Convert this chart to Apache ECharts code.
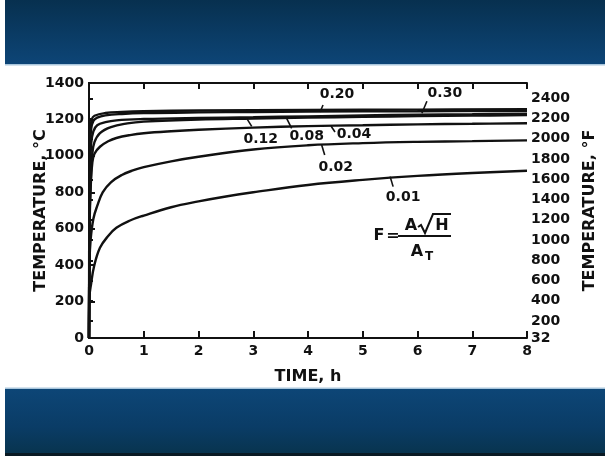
<!DOCTYPE html>
<html>
<head>
<meta charset="utf-8">
<script src="https://cdn.jsdelivr.net/npm/echarts@6/dist/echarts.min.js"></script>
<style>
  html, body { margin: 0; padding: 0; background: #ffffff; }
  #chart { width: 605px; height: 456px; }
</style>
</head>
<body>
<div id="chart"></div>
<script>
// Heating curves: temperature (°C) versus time (h) for several F values.
const curveNames = ['0.01', '0.02', '0.04', '0.08', '0.12', '0.20', '0.30'];

const curve001 = [[0, 0], [0.01, 230], [0.04, 300], [0.09, 390], [0.2, 495], [0.35, 560], [0.5, 605], [0.75, 645], [1, 672], [1.5, 718], [2, 750], [2.5, 777], [3, 800], [4, 840], [5, 868], [6, 890], [7, 906], [8, 918]];
const curve002 = [[0, 0], [0.01, 420], [0.03, 540], [0.08, 655], [0.15, 725], [0.25, 800], [0.4, 855], [0.6, 895], [0.8, 920], [1, 938], [1.5, 970], [2, 995], [3, 1035], [4, 1058], [5, 1070], [6, 1077], [7, 1081], [8, 1085]];
const curve004 = [[0, 0], [0.01, 600], [0.03, 820], [0.06, 960], [0.1, 1012], [0.2, 1050], [0.35, 1080], [0.5, 1098], [0.75, 1114], [1, 1124], [1.5, 1135], [2, 1143], [3, 1155], [4, 1163], [5, 1168], [6, 1173], [7, 1176], [8, 1179]];
const curve008 = [[0, 0], [0.01, 650], [0.03, 850], [0.06, 1010], [0.1, 1075], [0.2, 1125], [0.4, 1158], [0.7, 1178], [1, 1188], [2, 1200], [3, 1205], [4, 1210], [5, 1214], [6, 1218], [7, 1221], [8, 1224]];
const curve012 = [[0, 0], [0.01, 750], [0.02, 900], [0.04, 1070], [0.08, 1135], [0.15, 1168], [0.3, 1185], [0.5, 1195], [1, 1202], [2, 1208], [3, 1212], [4, 1217], [5, 1222], [6, 1226], [7, 1229], [8, 1232]];
const curve020 = [[0, 0], [0.01, 800], [0.02, 1050], [0.04, 1150], [0.08, 1192], [0.15, 1210], [0.3, 1222], [0.6, 1230], [1, 1235], [2, 1239], [3, 1241], [4, 1243], [6, 1245], [8, 1247]];
const curve030 = [[0, 0], [0.005, 700], [0.01, 1000], [0.02, 1140], [0.05, 1200], [0.1, 1220], [0.3, 1235], [0.6, 1241], [1, 1245], [2, 1249], [4, 1252], [6, 1254], [8, 1256]];

const curveData = [curve001, curve002, curve004, curve008, curve012, curve020, curve030];

// Axis ticks
const hourTicks = [0, 1, 2, 3, 4, 5, 6, 7, 8];
const celsiusTicks = [0, 200, 400, 600, 800, 1000, 1200, 1400];
const fahrenheitLabels = [32, 200, 400, 600, 800, 1000, 1200, 1400, 1600, 1800, 2000, 2200, 2400];
const fahrenheitTicks = [200, 400, 600, 800, 1000, 1200, 1400, 1600, 1800, 2000, 2200, 2400];

// Curve annotations: point on curve [h, °C], leader start and text centre offsets in px
const curveNotes = [
  { name: '0.01', at: [5.5, 886], lead: [3, 10], text: [13, 21] },
  { name: '0.02', at: [4.25, 1060], lead: [3, 10], text: [14, 22] },
  { name: '0.04', at: [4.42, 1164], lead: [4, 6], text: [23, 8] },
  { name: '0.08', at: [3.61, 1206], lead: [5, 10], text: [20, 18] },
  { name: '0.12', at: [2.88, 1206], lead: [5, 8], text: [14, 21] },
  { name: '0.20', at: [4.22, 1241], lead: [3, -7], text: [17, -18] },
  { name: '0.30', at: [6.08, 1234], lead: [5, -12], text: [23, -20] }
];

const INK = '#111111';
const FONT = 'DejaVu Sans';
const cMin = celsiusTicks[0];
const cMax = celsiusTicks[celsiusTicks.length - 1];
const toF = c => c * 9 / 5 + 32;
const plain = v => String(Math.round(v));

const chart = echarts.init(document.getElementById('chart'), null, { renderer: 'canvas' });

const labelStyle = { color: INK, fontFamily: FONT, fontWeight: 'bold', fontSize: 14, formatter: plain };
const titleStyle = { color: INK, fontFamily: FONT, fontWeight: 'bold', fontSize: 16 };

const option = {
  animation: false,
  backgroundColor: '#ffffff',
  grid: { left: 89, right: 78, top: 83, bottom: 118, containLabel: false, outerBoundsMode: 'none' },
  xAxis: [
    {
      type: 'value', position: 'bottom',
      min: hourTicks[0], max: hourTicks[hourTicks.length - 1], interval: 1,
      name: 'TIME, h', nameLocation: 'middle', nameGap: 31, nameMoveOverlap: false,
      nameTextStyle: titleStyle,
      axisLine: { show: true, lineStyle: { color: INK, width: 2 } },
      axisTick: { show: true, inside: true, length: 7, lineStyle: { color: INK, width: 2 } },
      axisLabel: Object.assign({ margin: 6 }, labelStyle),
      splitLine: { show: false }
    },
    {
      type: 'value', position: 'top',
      min: hourTicks[0], max: hourTicks[hourTicks.length - 1], interval: 1,
      axisLine: { show: true, lineStyle: { color: INK, width: 2 } },
      axisTick: { show: true, inside: true, length: 6, lineStyle: { color: INK, width: 2 } },
      axisLabel: { show: false },
      splitLine: { show: false }
    }
  ],
  yAxis: [
    {
      type: 'value', position: 'left',
      min: cMin, max: cMax, interval: 200,
      name: 'TEMPERATURE, °C', nameLocation: 'middle', nameRotate: 90, nameGap: 40, nameMoveOverlap: false,
      nameTextStyle: titleStyle,
      axisLine: { show: true, lineStyle: { color: INK, width: 2 } },
      axisTick: { show: true, inside: true, length: 6, lineStyle: { color: INK, width: 2 } },
      axisLabel: Object.assign({ margin: 5 }, labelStyle),
      splitLine: { show: false }
    },
    {
      type: 'value', position: 'right',
      min: toF(cMin), max: toF(cMax),
      name: 'TEMPERATURE, °F', nameLocation: 'middle', nameRotate: 90, nameGap: 55, nameMoveOverlap: false,
      nameTextStyle: titleStyle,
      axisLine: { show: true, lineStyle: { color: INK, width: 2 } },
      axisTick: { show: true, inside: false, length: 4, customValues: fahrenheitTicks, lineStyle: { color: INK, width: 2 } },
      axisLabel: Object.assign({ margin: 4, customValues: fahrenheitLabels }, labelStyle),
      splitLine: { show: false }
    }
  ],
  series: curveNames.map((name, i) => ({
    name: name,
    type: 'line',
    xAxisIndex: 0,
    yAxisIndex: 0,
    data: curveData[i],
    showSymbol: false,
    symbol: 'none',
    smooth: 0.4,
    lineStyle: { color: INK, width: 2.4 },
    z: 3
  }))
};

chart.setOption(option);

// Background bands, curve annotations and the formula
function decorations() {
  const els = [];
  els.push({
    type: 'rect', z: -10, silent: true,
    shape: { x: 5, y: 0, width: 600, height: 65 },
    style: { fill: new echarts.graphic.LinearGradient(0, 0, 0, 1, [
      { offset: 0, color: '#07304f' }, { offset: 1, color: '#0d4577' }
    ]) }
  });
  els.push({
    type: 'rect', z: -9, silent: true,
    shape: { x: 5, y: 64, width: 600, height: 1.5 },
    style: { fill: '#a9c6dc' }
  });
  els.push({
    type: 'rect', z: -10, silent: true,
    shape: { x: 5, y: 388, width: 600, height: 65 },
    style: { fill: new echarts.graphic.LinearGradient(0, 0, 0, 1, [
      { offset: 0, color: '#0d4677' }, { offset: 0.6, color: '#0a3c66' }, { offset: 1, color: '#08344f' }
    ]) }
  });
  els.push({
    type: 'rect', z: -9, silent: true,
    shape: { x: 5, y: 387.5, width: 600, height: 1.5 },
    style: { fill: '#a9c6dc' }
  });
  els.push({
    type: 'rect', z: -10, silent: true,
    shape: { x: 5, y: 453, width: 600, height: 3 },
    style: { fill: '#0a1a24' }
  });

  curveNotes.forEach(n => {
    const p = chart.convertToPixel({ xAxisIndex: 0, yAxisIndex: 0 }, n.at);
    els.push({
      type: 'line', z: 5, silent: true,
      shape: { x1: p[0], y1: p[1], x2: p[0] + n.lead[0], y2: p[1] + n.lead[1] },
      style: { stroke: INK, lineWidth: 1.6 }
    });
    els.push({
      type: 'text', z: 6, silent: true,
      x: p[0] + n.text[0], y: p[1] + n.text[1],
      style: {
        text: n.name, fill: INK, font: 'bold 14px "' + FONT + '"',
        align: 'center', verticalAlign: 'middle'
      }
    });
  });

  // F = A√H / A_T
  const fx = 379, fy = 236;
  const f = 'bold 16px "' + FONT + '"';
  els.push({ type: 'text', z: 6, silent: true, x: fx, y: fy, style: { text: 'F', font: f, fill: INK, align: 'center', verticalAlign: 'middle' } });
  els.push({ type: 'text', z: 6, silent: true, x: fx + 14, y: fy, style: { text: '=', font: f, fill: INK, align: 'center', verticalAlign: 'middle' } });
  els.push({ type: 'line', z: 6, silent: true, shape: { x1: fx + 19, y1: fy, x2: fx + 72, y2: fy }, style: { stroke: INK, lineWidth: 2 } });
  els.push({ type: 'text', z: 6, silent: true, x: fx + 32, y: fy - 10, style: { text: 'A', font: f, fill: INK, align: 'center', verticalAlign: 'middle' } });
  els.push({
    type: 'polyline', z: 6, silent: true,
    shape: { points: [[fx + 39, fy - 9], [fx + 42, fy - 11], [fx + 46, fy - 3], [fx + 54, fy - 22], [fx + 72, fy - 22]] },
    style: { stroke: INK, lineWidth: 2, fill: null }
  });
  els.push({ type: 'text', z: 6, silent: true, x: fx + 63, y: fy - 10, style: { text: 'H', font: f, fill: INK, align: 'center', verticalAlign: 'middle' } });
  els.push({ type: 'text', z: 6, silent: true, x: fx + 38, y: fy + 16, style: { text: 'A', font: f, fill: INK, align: 'center', verticalAlign: 'middle' } });
  els.push({ type: 'text', z: 6, silent: true, x: fx + 50, y: fy + 21, style: { text: 'T', font: 'bold 12px "' + FONT + '"', fill: INK, align: 'center', verticalAlign: 'middle' } });
  return els;
}

chart.setOption({ graphic: decorations() });
</script>
</body>
</html>
